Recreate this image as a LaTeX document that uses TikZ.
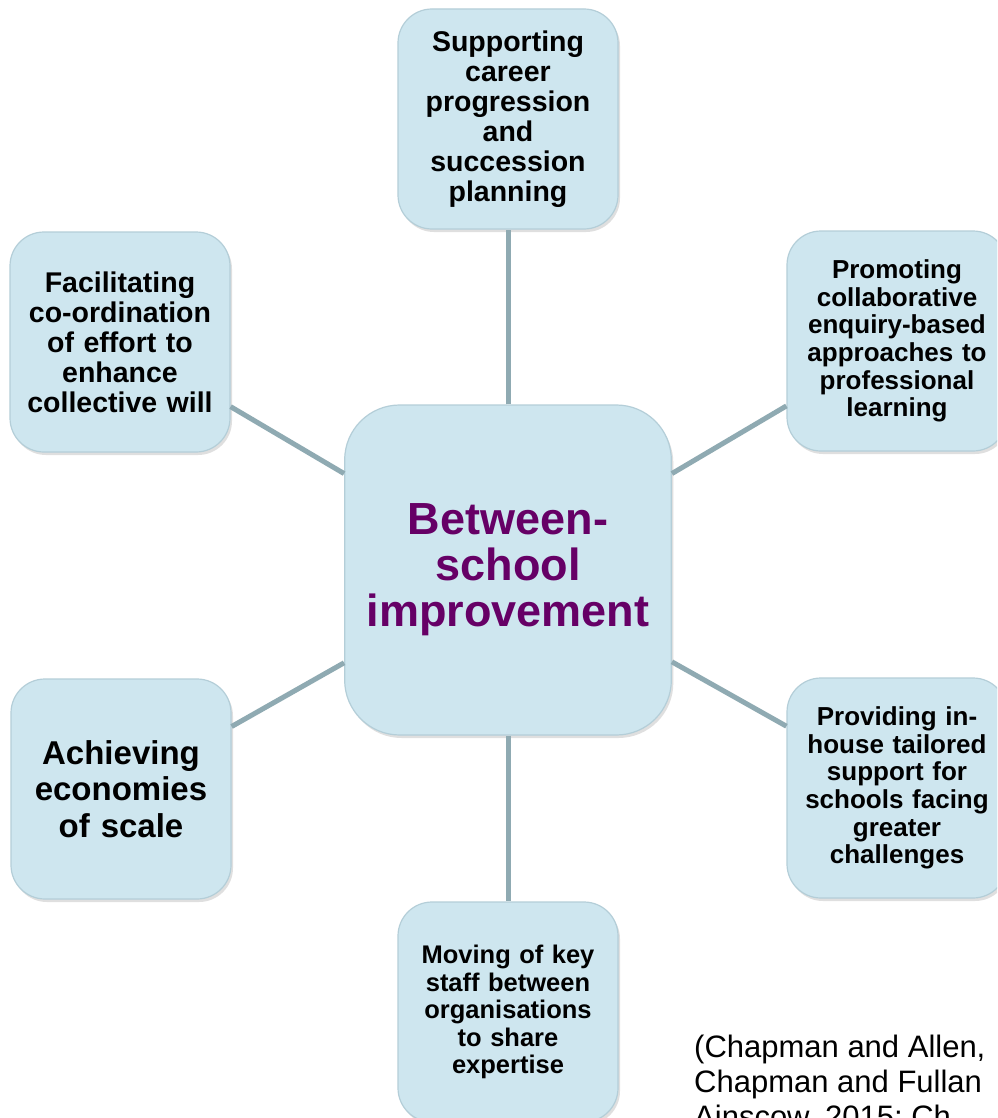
\documentclass[tikz,border=0pt]{standalone}
\usepackage{fontspec}
\setmainfont{Liberation Sans}
\usetikzlibrary{shadows}
\definecolor{boxfill}{RGB}{206,230,239}
\definecolor{boxedge}{RGB}{180,206,216}
\definecolor{linkcol}{RGB}{143,170,178}
\definecolor{hubtext}{RGB}{102,0,102}
\tikzset{
  box/.style={rectangle, rounded corners=34pt, fill=boxfill, draw=boxedge, line width=1.2pt,
    minimum width=220pt, minimum height=220pt, align=center, text width=212pt,
    drop shadow={shadow xshift=2pt, shadow yshift=-3pt, opacity=0.25, fill=gray}},
  hub/.style={box, rounded corners=55pt, minimum width=326pt, minimum height=330pt, text width=320pt,
    text=hubtext, font=\fontsize{45}{46}\selectfont\bfseries},
  link/.style={draw=linkcol, line width=5pt},
  fsmall/.style={font=\fontsize{26}{27.6}\selectfont\bfseries},
  fmid/.style={font=\fontsize{28.5}{30}\selectfont\bfseries},
  fbig/.style={font=\fontsize{33}{36.5}\selectfont\bfseries},
  cite/.style={font=\fontsize{31}{35}\selectfont, anchor=north west, align=left, inner sep=0pt}
}
\begin{document}
\begin{tikzpicture}[x=1pt,y=-1pt]
\useasboundingbox (0,0) rectangle (997,1118);
\clip (0,0) rectangle (997,1118);
\fill[white] (0,0) rectangle (997,1118);
\node[hub] (c) at (508,570) {Between-\\school\\improvement};
\node[box, fmid] (t) at (508,119) {Supporting\\career\\progression\\and\\succession\\planning};
\node[box, fmid] (ul) at (120,342) {Facilitating\\co-ordination\\of effort to\\enhance\\collective will};
\node[box, fsmall] (ur) at (897,341) {Promoting\\collaborative\\enquiry-based\\approaches to\\professional\\learning};
\node[box, fbig] (ll) at (121,789) {Achieving\\economies\\of scale};
\node[box, fsmall] (lr) at (897,788) {Providing in-\\house tailored\\support for\\schools facing\\greater\\challenges};
\node[box, font=\fontsize{25.5}{27.5}\selectfont\bfseries] (b) at (508,1012) {Moving of key\\staff between\\organisations\\to share\\expertise};
\draw[link] (c) -- (t);
\draw[link] (c) -- (ul);
\draw[link] (c) -- (ur);
\draw[link] (c) -- (ll);
\draw[link] (c) -- (lr);
\draw[link] (c) -- (b);
\node[cite] (ref) at (694,1035) {(Chapman and Allen,\\Chapman and Fullan\\Ainscow, 2015; Ch};
\end{tikzpicture}
\end{document}
